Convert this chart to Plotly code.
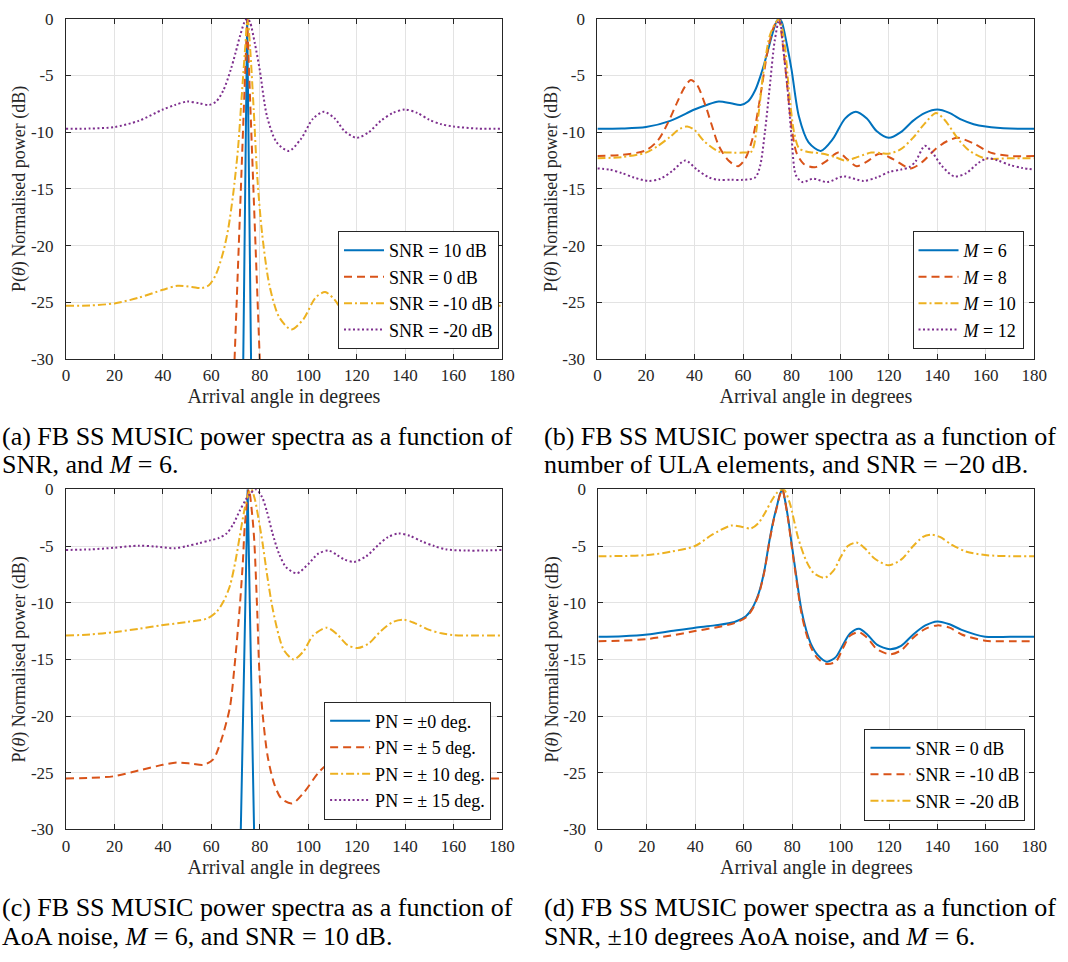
import plotly.graph_objects as go

W, H = 1068, 962
FONT = "Liberation Serif"
BLUE, ORANGE, YELLOW, PURPLE = "#0072BD", "#D95319", "#EDB120", "#7E2F8E"
DASH = {"solid": "solid", "dash": "8px,5px", "dashdot": "8px,3px,2px,3px", "dot": "2px,2.5px"}

x_ticks = [0, 20, 40, 60, 80, 100, 120, 140, 160, 180]
y_ticks = [-30, -25, -20, -15, -10, -5, 0]
y_ticktext = ["-30", "-25", "-20", "-15", "-10", "-5", "0"]

# ---------------- (a) SNR, M = 6 ----------------
a_snr10_x = [73.0, 74.8, 76.6]
a_snr10_y = [-33.6, 0, -33.6]
a_snr0_x = [69.0, 71.0, 73.0, 74.8, 76.6, 78.6, 80.6]
a_snr0_y = [-33.5, -22, -10.5, 0, -10.5, -22, -33.5]
a_snrm10_x = [0, 10, 20, 30, 40, 46, 52, 56, 59, 62, 65, 67, 69, 71, 72.5, 74, 75, 76, 77.5, 79, 81, 84,
              88, 93, 98, 103, 107, 111, 115, 120, 125, 130, 135, 140, 145, 150, 155, 160, 170, 180]
a_snrm10_y = [-25.3, -25.28, -25.1, -24.6, -23.9, -23.55, -23.65, -23.75, -23.5, -22.5, -20.5, -18.5,
              -15.5, -11.5, -7.0, -2.5, 0, -2.5, -8.0, -14, -19, -23.5, -26.3, -27.4, -26.5, -24.6, -24.1,
              -24.8, -26.0, -26.5, -26.0, -24.8, -24.0, -23.8, -24.0, -24.5, -25.0, -25.2, -25.3, -25.3]
m6_x = [0, 10, 20, 30, 40, 45, 50, 55, 59, 62, 65, 68, 70, 72, 74, 75, 76, 78, 80, 83, 87, 92, 97, 102,
        106.5, 111, 115, 120, 125, 130, 135, 140, 145, 150, 155, 160, 170, 180]
m6_y = [-9.7, -9.68, -9.55, -9.0, -8.0, -7.6, -7.3, -7.45, -7.6, -7.3, -6.3, -4.5, -3.0, -1.4, -0.15, 0,
        -0.3, -2.2, -4.5, -8.6, -10.9, -11.65, -10.6, -8.8, -8.2, -8.8, -9.9, -10.5, -10.0, -9.0, -8.3,
        -8.0, -8.3, -8.9, -9.3, -9.5, -9.68, -9.7]

# ---------------- (b) M, SNR = -20 dB ----------------
m8_x = [0, 10, 20, 25, 29, 33, 36, 38.5, 41, 44.6, 47, 50, 54, 58, 61, 64, 67, 70, 72.5, 74.6, 76.5, 78,
        80, 82, 85, 89.5, 94, 99.3, 103, 106.8, 111, 116.2, 122, 129, 134, 139.2, 144, 148.6, 155, 162,
        170, 180]
m8_y = [-12.1, -12.0, -11.6, -10.7, -9.2, -7.3, -6.0, -5.4, -5.8, -7.7, -9.3, -11.2, -12.5, -13.0, -12.3,
        -10.5, -7.0, -3.0, -0.8, 0, -2.5, -5.5, -9.5, -11.8, -12.8, -13.1, -12.6, -11.8, -12.4, -13.0,
        -12.6, -11.9, -12.4, -13.2, -12.6, -11.5, -10.8, -10.5, -11.0, -11.8, -12.1, -12.1]
m10_x = [0, 10, 20, 25, 30, 34, 37, 40, 44, 50, 56, 60, 63.5, 66, 68.5, 71, 73, 75, 77, 79, 81, 83, 86,
         89, 93, 98, 102, 107, 112.8, 117, 120, 125, 130, 135, 139.5, 143, 148.6, 153, 159.5, 170, 180]
m10_y = [-12.3, -12.2, -11.8, -11.2, -10.4, -9.7, -9.5, -9.8, -10.8, -11.7, -11.8, -11.8, -11.7, -9.0,
         -4.5, -1.5, -0.5, 0, -2.0, -6.5, -10.0, -11.4, -11.7, -11.8, -11.9, -12.2, -12.5, -12.2, -11.8,
         -11.85, -11.9, -11.5, -10.5, -9.2, -8.3, -8.9, -10.6, -11.6, -12.3, -12.3, -12.3]
m12_x = [0, 5, 10, 15, 21, 26, 31, 36.2, 41, 46, 50, 55, 60, 65, 67, 69, 71, 73, 75, 77, 78.4, 80, 81.8,
         84.5, 88.9, 94.6, 101.4, 109.5, 115, 120.3, 125, 128.4, 131, 134.9, 138, 142, 147, 152, 157,
         160.8, 165, 170, 175, 180]
m12_y = [-13.2, -13.3, -13.6, -14.0, -14.3, -14.1, -13.4, -12.5, -13.3, -14.0, -14.2, -14.2, -14.2, -14.0,
         -13.0, -10.0, -6.0, -2.0, 0, -3.5, -6.3, -10.5, -13.8, -14.4, -14.1, -14.4, -13.9, -14.3, -14.0,
         -13.5, -13.3, -13.1, -12.6, -11.2, -11.8, -13.0, -13.9, -13.6, -12.7, -12.3, -12.5, -12.9,
         -13.15, -13.3]

# ---------------- (c) AoA noise, M = 6, SNR = 10 dB ----------------
pn0_x = [71.8, 75.0, 78.0]
pn0_y = [-34, 0, -34]
pn5_x = [0, 10, 20, 30, 40, 46, 52, 56.8, 60.9, 63, 65, 67.7, 69.5, 71.7, 73, 73.8, 75.5, 77, 77.8, 79,
         79.9, 81.5, 83.3, 86, 89, 93.4, 98, 104.2, 108, 112, 116, 121, 126, 131, 136, 140, 145, 150,
         160, 170, 180]
pn5_y = [-25.5, -25.45, -25.3, -24.8, -24.3, -24.1, -24.2, -24.3, -23.8, -22.8, -21.5, -19.2, -15.8,
         -10.5, -6.5, -3.3, 0, -2.5, -4.8, -11, -16.3, -20.5, -23.6, -26.0, -27.3, -27.7, -26.8, -25.0,
         -24.3, -24.8, -25.9, -26.5, -26.0, -24.8, -24.1, -24.0, -24.3, -24.8, -25.3, -25.5, -25.5]
pn10_x = [0, 10, 20, 30, 39.2, 50, 58.2, 62.2, 65, 67.7, 70, 71.7, 73.5, 75, 76.5, 78, 79.5, 81.2, 83,
          85.3, 88, 90, 94, 98, 102, 107.6, 112, 116, 120.4, 125, 130, 135, 139.4, 144, 150, 155, 159.7,
          170, 180]
pn10_y = [-12.9, -12.8, -12.6, -12.3, -12.0, -11.7, -11.4, -10.8, -9.9, -8.5, -6.3, -4.2, -2.0, -0.6, 0,
          -0.9, -2.6, -4.8, -7.5, -10.5, -13.0, -14.2, -15.0, -14.3, -12.9, -12.2, -12.8, -13.7, -14.0,
          -13.6, -12.5, -11.7, -11.5, -11.8, -12.4, -12.7, -12.85, -12.9, -12.9]
pn15_x = [0, 10, 20, 30, 37, 44.7, 50, 55, 59.5, 63, 66.3, 69, 71.7, 74, 76, 78.5, 81, 83, 85.3, 88, 91,
          95.4, 100, 104, 108.3, 112, 115, 119, 124, 129, 133, 137.3, 142, 147, 152, 157, 165, 172, 180]
pn15_y = [-5.35, -5.3, -5.15, -4.97, -5.05, -5.2, -5.0, -4.75, -4.5, -4.3, -3.9, -3.1, -1.9, -1.0, -0.4,
          0, -0.7, -2.0, -3.9, -5.7, -6.9, -7.4, -6.6, -5.7, -5.4, -5.8, -6.2, -6.4, -5.9, -4.9, -4.2,
          -3.9, -4.1, -4.6, -5.0, -5.3, -5.4, -5.4, -5.35]

# ---------------- (d) SNR, +-10 deg AoA noise, M = 6 ----------------
d_x = [0, 10, 20.3, 30, 39.9, 48, 56.2, 60.9, 63.5, 66.3, 68.5, 70.4, 72.2, 73.8, 75, 76, 77, 78.3, 79.8,
       81.8, 83.8, 85.8, 87.9, 90.5, 94.3, 98, 101, 104, 107.6, 111, 115, 120.4, 125, 130, 135, 140,
       145, 150, 159.7, 170, 180]
d_snr0_y = [-13.0, -12.95, -12.8, -12.5, -12.2, -12.0, -11.7, -11.2, -10.5, -9.1, -7.2, -4.8, -2.8, -1.4,
            -0.4, 0, -0.9, -2.5, -4.8, -7.8, -10.6, -12.4, -13.7, -14.6, -15.2, -14.8, -13.7, -12.7,
            -12.3, -12.8, -13.7, -14.1, -13.8, -12.8, -12.0, -11.65, -11.9, -12.4, -13.0, -13.0, -13.0]
d_snrm10_y = [-13.4, -13.35, -13.2, -12.9, -12.5, -12.2, -11.8, -11.3, -10.6, -9.2, -7.3, -4.9, -2.9,
              -1.5, -0.45, 0, -0.95, -2.6, -5.0, -8.0, -10.9, -12.7, -14.0, -14.9, -15.4, -15.2, -14.0,
              -12.9, -12.6, -13.1, -14.1, -14.55, -14.2, -13.1, -12.3, -12.0, -12.2, -12.8, -13.35,
              -13.4, -13.4]
d_snrm20_x = [0, 10, 20.3, 30, 39.9, 47, 54.8, 59, 62.9, 66, 69, 71.5, 74, 76.5, 79, 82.5, 86, 89, 93.4,
              97, 100, 103, 106.6, 110, 114, 119.8, 125, 130, 134, 137.4, 141, 146, 152, 159.7, 170, 180]
d_snrm20_y = [-5.9, -5.88, -5.8, -5.5, -5.0, -4.0, -3.2, -3.3, -3.45, -3.0, -2.0, -1.0, -0.25, 0, -1.2,
              -4.3, -6.4, -7.4, -7.8, -7.2, -6.0, -5.0, -4.7, -5.2, -6.1, -6.7, -6.2, -5.0, -4.2, -4.0,
              -4.2, -4.9, -5.5, -5.8, -5.9, -5.9]

panels = [
    ("", "legend", [
        ("SNR = 10 dB", a_snr10_x, a_snr10_y, BLUE, "solid", "linear"),
        ("SNR = 0 dB", a_snr0_x, a_snr0_y, ORANGE, "dash", "linear"),
        ("SNR = -10 dB", a_snrm10_x, a_snrm10_y, YELLOW, "dashdot", "spline"),
        ("SNR = -20 dB", m6_x, m6_y, PURPLE, "dot", "spline"),
    ]),
    ("2", "legend2", [
        ("<i>M</i> = 6", m6_x, m6_y, BLUE, "solid", "spline"),
        ("<i>M</i> = 8", m8_x, m8_y, ORANGE, "dash", "spline"),
        ("<i>M</i> = 10", m10_x, m10_y, YELLOW, "dashdot", "spline"),
        ("<i>M</i> = 12", m12_x, m12_y, PURPLE, "dot", "spline"),
    ]),
    ("3", "legend3", [
        ("PN = ±0 deg.", pn0_x, pn0_y, BLUE, "solid", "linear"),
        ("PN = ± 5 deg.", pn5_x, pn5_y, ORANGE, "dash", "spline"),
        ("PN = ± 10 deg.", pn10_x, pn10_y, YELLOW, "dashdot", "spline"),
        ("PN = ± 15 deg.", pn15_x, pn15_y, PURPLE, "dot", "spline"),
    ]),
    ("4", "legend4", [
        ("SNR = 0 dB", d_x, d_snr0_y, BLUE, "solid", "spline"),
        ("SNR = -10 dB", d_x, d_snrm10_y, ORANGE, "dash", "spline"),
        ("SNR = -20 dB", d_snrm20_x, d_snrm20_y, YELLOW, "dashdot", "spline"),
    ]),
]

fig = go.Figure()
for suf, leg, traces in panels:
    for name, xs, ys, col, dash, shape in traces:
        line = dict(color=col, width=2, dash=DASH[dash], shape=shape)
        if shape == "spline":
            line["smoothing"] = 0.8
        fig.add_trace(go.Scatter(x=xs, y=ys, mode="lines", name=name, line=line,
                                 xaxis="x" + suf, yaxis="y" + suf, legend=leg))


def px_x(p):
    return p / W


def px_y(p):
    return 1 - p / H


AX = "#262626"
axis_common = dict(showline=True, linecolor=AX, linewidth=1, mirror="ticks", ticks="inside",
                   ticklen=5, tickcolor=AX, showgrid=True, gridcolor="#e3e3e3", gridwidth=1,
                   zeroline=False, tickfont=dict(family=FONT, size=17, color=AX))

boxes = {"": (63, 506, 10, 357), "2": (603, 1047, 10, 357),
         "3": (63, 506, 490, 837), "4": (604, 1047, 490, 837)}
layout = {}
for suf, (x0, x1, y0, y1) in boxes.items():
    layout["xaxis" + suf] = dict(axis_common, domain=[px_x(x0), px_x(x1)], range=[0, 180],
                                 tickvals=x_ticks, anchor="y" + suf, ticklabelstandoff=1,
                                 title=dict(text="Arrival angle in degrees",
                                            font=dict(family=FONT, size=20, color=AX), standoff=1))
    layout["yaxis" + suf] = dict(axis_common, domain=[px_y(y1), px_y(y0)], range=[-30, 0],
                                 tickvals=y_ticks, ticktext=y_ticktext, anchor="x" + suf,
                                 ticklabelstandoff=8,
                                 title=dict(text="P(<i>θ</i>) Normalised power (dB)",
                                            font=dict(family=FONT, size=18, color=AX), standoff=0))

leg_common = dict(font=dict(family=FONT, size=18, color="#000000"), bgcolor="white",
                  bordercolor=AX, borderwidth=1, xanchor="right", yanchor="bottom",
                  tracegroupgap=0, xref="paper", yref="paper", itemwidth=40)
layout["legend"] = dict(leg_common, x=px_x(503), y=px_y(347))
layout["legend2"] = dict(leg_common, x=px_x(1036), y=px_y(347))
layout["legend3"] = dict(leg_common, x=px_x(495), y=px_y(827))
layout["legend4"] = dict(leg_common, x=px_x(1038), y=px_y(828))

captions = [
    (-4, 436, "(a) FB SS MUSIC power spectra as a function of"),
    (-4, 465, "SNR, and <i>M</i> = 6."),
    (547, 436, "(b) FB SS MUSIC power spectra as a function of"),
    (547, 465, "number of ULA elements, and SNR = −20 dB."),
    (-4, 917, "(c) FB SS MUSIC power spectra as a function of"),
    (-4, 946, "AoA noise, <i>M</i> = 6, and SNR = 10 dB."),
    (547, 917, "(d) FB SS MUSIC power spectra as a function of"),
    (547, 946, "SNR, ±10 degrees AoA noise, and <i>M</i> = 6."),
]
annotations = [dict(x=px_x(cx), y=px_y(cy), xref="paper", yref="paper", xanchor="left",
                    yanchor="middle", text=t, showarrow=False,
                    font=dict(family=FONT, size=26, color="#000000"))
               for cx, cy, t in captions]

fig.update_layout(width=W, height=H, margin=dict(l=0, r=0, t=0, b=0), plot_bgcolor="white",
                  paper_bgcolor="white", annotations=annotations, **layout)

fig.write_html("out.html")
